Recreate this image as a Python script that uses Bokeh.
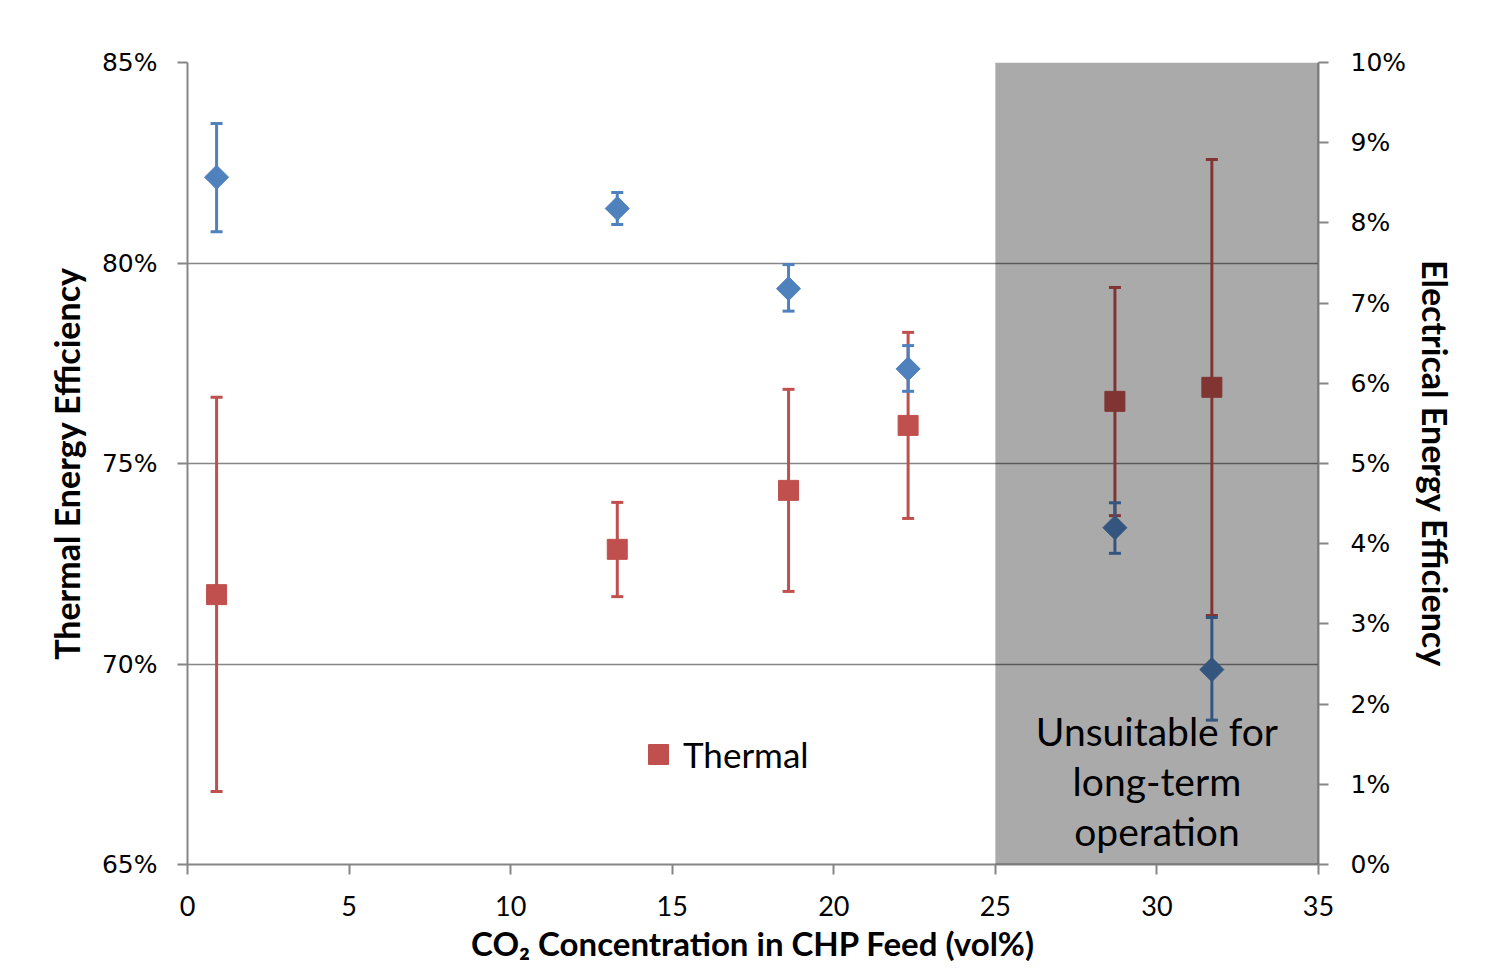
from bokeh.plotting import figure
from bokeh.models import (Range1d, LinearAxis, NumeralTickFormatter, Whisker, TeeHead,
                          ColumnDataSource, BoxAnnotation, Label, Legend, LegendItem, FixedTicker)
from bokeh.embed import file_html
from bokeh.resources import INLINE

# ---- data ----
co2 = [0.9, 13.3, 18.6, 22.3, 28.7, 31.7]
thermal = [0.7173, 0.7286, 0.7433, 0.7595, 0.7655, 0.7690]
thermal_hi = [0.7665, 0.7403, 0.7685, 0.7827, 0.7939, 0.8258]
thermal_lo = [0.6682, 0.7168, 0.7181, 0.7363, 0.7370, 0.7121]
elec = [0.0857, 0.0818, 0.0718, 0.0618, 0.0420, 0.0243]
elec_hi = [0.0924, 0.0838, 0.0748, 0.0647, 0.0451, 0.0308]
elec_lo = [0.0789, 0.0798, 0.0690, 0.0590, 0.0388, 0.0180]
x_ticks = [0, 5, 10, 15, 20, 25, 30, 35]
left_ticks = [0.65, 0.70, 0.75, 0.80, 0.85]
right_ticks = [0.00, 0.01, 0.02, 0.03, 0.04, 0.05, 0.06, 0.07, 0.08, 0.09, 0.10]
unsuitable_from = 25
unsuitable_to = 35

RED = "#c0504d"
BLUE = "#4f81bd"
AXIS = "#868686"
FONT = "Lato"

p = figure(frame_width=1131, frame_height=802,
           x_range=Range1d(0, 35), y_range=Range1d(0.65, 0.85),
           output_backend="svg", toolbar_location=None,
           min_border_left=187, min_border_right=161, min_border_top=62, min_border_bottom=90)
p.extra_y_ranges = {"elec": Range1d(0, 0.10)}
p.outline_line_color = None
p.background_fill_color = "white"

# grids
p.xgrid.visible = False
p.ygrid.ticker = FixedTicker(ticks=[0.70, 0.75, 0.80, 0.85])
p.ygrid.grid_line_color = AXIS
p.ygrid.grid_line_width = 1.5

def style_axis(ax):
    ax.axis_line_color = AXIS
    ax.axis_line_width = 2
    ax.major_tick_line_color = AXIS
    ax.major_tick_line_width = 2
    ax.major_tick_in = 0
    ax.major_tick_out = 10
    ax.minor_tick_line_color = None
    ax.major_label_text_color = "black"
    ax.axis_label_text_color = "black"
    ax.axis_label_text_font = FONT
    ax.axis_label_text_font_style = "bold"
    ax.axis_label_text_font_size = "34px"

# x axis
xa = p.xaxis[0]
style_axis(xa)
xa.ticker = FixedTicker(ticks=x_ticks)
xa.major_label_text_font = FONT
xa.major_label_text_font_size = "27px"
xa.major_label_standoff = 21
xa.axis_label = "CO\u2082 Concentration in CHP Feed (vol%)"
xa.axis_label_standoff = 4
xa.axis_label_text_font_size = "33px"

# left axis
ya = p.yaxis[0]
style_axis(ya)
ya.ticker = FixedTicker(ticks=left_ticks)
ya.formatter = NumeralTickFormatter(format="0%")
ya.major_label_text_font = "DejaVu Sans"
ya.major_label_text_font_size = "25px"
ya.major_label_standoff = 20
ya.axis_label = "Thermal Energy Efficiency"
ya.axis_label_standoff = 12

# right axis
ra = LinearAxis(y_range_name="elec")
style_axis(ra)
ra.ticker = FixedTicker(ticks=right_ticks)
ra.formatter = NumeralTickFormatter(format="0%")
ra.major_label_text_font = "DejaVu Sans"
ra.major_label_text_font_size = "25px"
ra.major_label_standoff = 22
ra.axis_label = "Electrical Energy Efficiency"
ra.axis_label_standoff = 6
p.add_layout(ra, "right")

# sources
src_t = ColumnDataSource(dict(x=co2, y=thermal, upper=thermal_hi, lower=thermal_lo))
src_e = ColumnDataSource(dict(x=co2, y=elec, upper=elec_hi, lower=elec_lo))

# error bars
wt = Whisker(base="x", upper="upper", lower="lower", source=src_t,
             line_color=RED, line_width=3,
             upper_head=TeeHead(size=12, line_color=RED, line_width=3),
             lower_head=TeeHead(size=12, line_color=RED, line_width=3))
we = Whisker(base="x", upper="upper", lower="lower", source=src_e, y_range_name="elec",
             line_color=BLUE, line_width=3,
             upper_head=TeeHead(size=12, line_color=BLUE, line_width=3),
             lower_head=TeeHead(size=12, line_color=BLUE, line_width=3))
p.add_layout(wt)
p.add_layout(we)

r_t = p.scatter("x", "y", source=src_t, marker="square", size=20,
                fill_color=RED, line_color=RED)
r_e = p.scatter("x", "y", source=src_e, marker="square", size=17, angle=0.7853981634,
                fill_color=BLUE, line_color=BLUE, y_range_name="elec")

# shaded region (darkens everything beneath it)
box = BoxAnnotation(left=unsuitable_from, right=unsuitable_to,
                    fill_color="black", fill_alpha=1/3, line_color=None, level="annotation")
p.add_layout(box)

lbl = Label(x=(unsuitable_from + unsuitable_to) / 2, y=0.65, y_offset=10,
            text="Unsuitable for\nlong-term\noperation",
            text_align="center", text_baseline="bottom",
            text_font=FONT, text_font_size="39px", text_color="black",
            text_line_height=1.09, level="overlay")
p.add_layout(lbl)

legend = Legend(items=[LegendItem(label="Thermal", renderers=[r_t])],
                location=(446, 85), background_fill_alpha=0, border_line_color=None,
                padding=0, margin=0, glyph_width=50, glyph_height=50, label_standoff=-10,
                label_text_font=FONT, label_text_font_size="35px", label_text_color="black")
p.add_layout(legend)

open("out.html", "w").write(file_html(p, INLINE))
